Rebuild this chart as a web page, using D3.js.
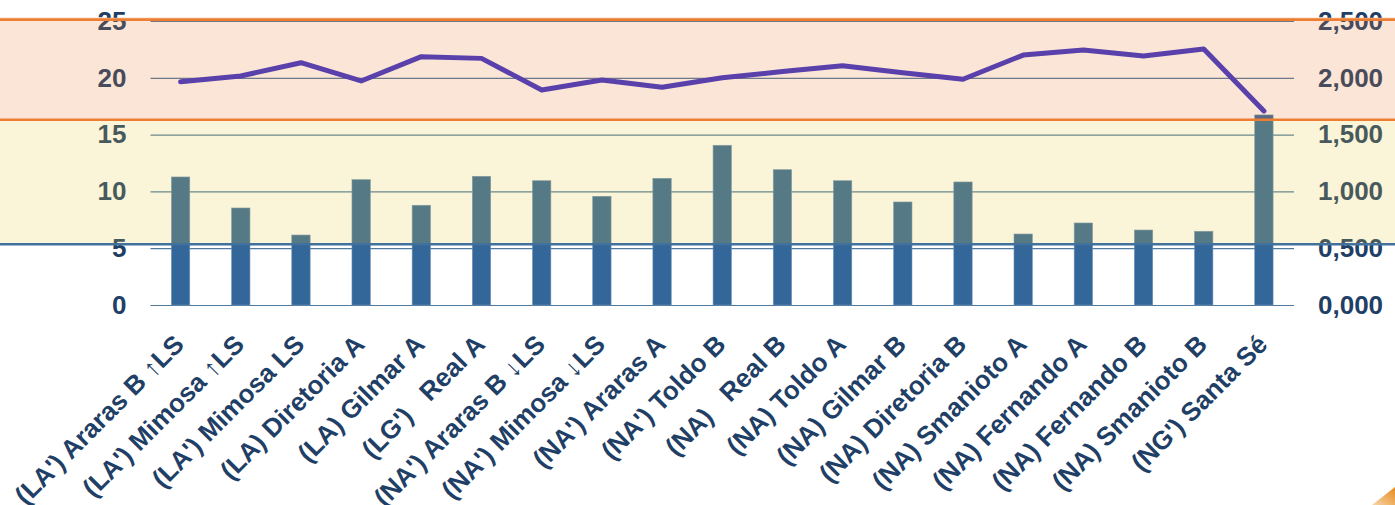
<!DOCTYPE html>
<html>
<head>
<meta charset="utf-8">
<script src="https://cdn.jsdelivr.net/npm/d3@7"></script>
<style>
  html, body { margin: 0; padding: 0; background: #ffffff; }
  svg { display: block; }
  text { font-family: "Liberation Sans", Arial, sans-serif; font-weight: bold; }
</style>
</head>
<body>
<svg id="chart" width="1395" height="505"></svg>
<script>
// ---- data ----
const categories = [
  "(LA') Araras B \u2191LS",
  "(LA') Mimosa \u2191LS",
  "(LA') Mimosa LS",
  "(LA) Diretoria A",
  "(LA) Gilmar A",
  "(LG')   Real A",
  "(NA') Araras B \u2193LS",
  "(NA') Mimosa \u2193LS",
  "(NA') Araras A",
  "(NA') Toldo B",
  "(NA)   Real B",
  "(NA) Toldo A",
  "(NA) Gilmar B",
  "(NA) Diretoria B",
  "(NA) Smanioto A",
  "(NA) Fernando A",
  "(NA) Fernando B",
  "(NA) Smanioto B",
  "(NG') Santa S\u00e9"
];
const barValues = [11.27, 8.54, 6.16, 11.03, 8.78, 11.33, 10.94, 9.57, 11.15, 14.06,
                   11.91, 10.94, 9.07, 10.83, 6.25, 7.22, 6.60, 6.49, 16.73];
const lineValues = [1966, 2016, 2133, 1972, 2186, 2171, 1893, 1981, 1916, 2000,
                    2055, 2106, 2045, 1987, 2200, 2245, 2192, 2254, 1708];
const leftTicks = [0, 5, 10, 15, 20, 25];
const leftTickLabels = ["0", "5", "10", "15", "20", "25"];
const rightTicks = [0, 500, 1000, 1500, 2000, 2500];
const rightTickLabels = ["0,000", "0,500", "1,000", "1,500", "2,000", "2,500"];
// band limits, in left-axis units
const orangeBand = [25.1, 16.3];
const yellowBand = [16.3, 5.35];

// ---- layout ----
const W = 1395, H = 505;
const plotLeft = 150.5, plotRight = 1294, yZero = 305, yTop = 21;

const svg = d3.select("#chart");
const x = d3.scaleBand().domain(categories).range([plotLeft, plotRight]).padding(0);
const y = d3.scaleLinear().domain([0, 25]).range([yZero, yTop]);
const y2 = d3.scaleLinear().domain([0, 2500]).range([yZero, yTop]);
const barW = x.bandwidth() * 0.305;

// gridlines
svg.append("g").selectAll("line").data(leftTicks).join("line")
  .attr("x1", plotLeft).attr("x2", plotRight)
  .attr("y1", d => y(d) + 0.5).attr("y2", d => y(d) + 0.5)
  .attr("stroke", "#4f7aa0").attr("stroke-width", 1.2);

// bars
svg.append("g").selectAll("rect").data(barValues).join("rect")
  .attr("x", (d, i) => x(categories[i]) + x.bandwidth() / 2 - barW / 2)
  .attr("y", d => y(d))
  .attr("width", barW)
  .attr("height", d => y(0) - y(d))
  .attr("fill", "#336699")
  .attr("stroke", "#6f93b8").attr("stroke-width", 0.6);

// axes
const axL = d3.axisLeft(y).tickValues(leftTicks)
  .tickFormat((d, i) => leftTickLabels[i]).tickSize(0).tickPadding(24);
const gL = svg.append("g").attr("transform", `translate(${plotLeft},0)`).call(axL);
const axR = d3.axisRight(y2).tickValues(rightTicks)
  .tickFormat((d, i) => rightTickLabels[i]).tickSize(0).tickPadding(24);
const gR = svg.append("g").attr("transform", `translate(${plotRight},0)`).call(axR);
[gL, gR].forEach(g => {
  g.select(".domain").remove();
  g.selectAll("text")
    .attr("fill", "#1f3f66")
    .style("font-size", "26px")
    .style("font-family", "'Liberation Sans', Arial, sans-serif")
    .style("font-weight", "bold");
});

// category labels
svg.append("g").selectAll("text").data(categories).join("text")
  .attr("transform", d => `translate(${x(d) + x.bandwidth() / 2 + 5},346) rotate(-45)`)
  .attr("text-anchor", "end")
  .attr("fill", "#1f3f66")
  .style("font-size", "26px")
  .style("white-space", "pre")
  .text(d => d);

// translucent bands over everything in their range
svg.append("rect").attr("x", 0).attr("width", W)
  .attr("y", y(orangeBand[0])).attr("height", y(orangeBand[1]) - y(orangeBand[0]))
  .attr("fill", "rgb(235,125,50)").attr("fill-opacity", 0.2);
svg.append("rect").attr("x", 0).attr("width", W)
  .attr("y", y(yellowBand[0])).attr("height", y(yellowBand[1]) - y(yellowBand[0]))
  .attr("fill", "rgb(230,200,60)").attr("fill-opacity", 0.2);

// line series
const line = d3.line()
  .x((d, i) => x(categories[i]) + x.bandwidth() / 2)
  .y(d => y2(d));
svg.append("path").datum(lineValues)
  .attr("d", line)
  .attr("fill", "none")
  .attr("stroke", "#5940ab")
  .attr("stroke-width", 5)
  .attr("stroke-linejoin", "round")
  .attr("stroke-linecap", "round");

// band boundary lines
svg.append("line").attr("x1", 0).attr("x2", W)
  .attr("y1", y(orangeBand[0]) - 1.5).attr("y2", y(orangeBand[0]) - 1.5)
  .attr("stroke", "#f4b183").attr("stroke-width", 1.2);
[orangeBand[0], orangeBand[1]].forEach(v => {
  svg.append("line").attr("x1", 0).attr("x2", W)
    .attr("y1", y(v)).attr("y2", y(v))
    .attr("stroke", "#ed7d31").attr("stroke-width", 2.5);
});
svg.append("line").attr("x1", 0).attr("x2", W)
  .attr("y1", y(yellowBand[1])).attr("y2", y(yellowBand[1]))
  .attr("stroke", "#41719c").attr("stroke-width", 2.5);

// small decorative corner swoosh
const defs = svg.append("defs");
const grad = defs.append("linearGradient").attr("id", "sw")
  .attr("x1", "0%").attr("y1", "100%").attr("x2", "100%").attr("y2", "0%");
grad.append("stop").attr("offset", "0%").attr("stop-color", "#f6d6a8");
grad.append("stop").attr("offset", "100%").attr("stop-color", "#e8891c");
svg.append("path").attr("d", "M1372,505 L1395,487 L1395,505 Z").attr("fill", "url(#sw)");
</script>
</body>
</html>
